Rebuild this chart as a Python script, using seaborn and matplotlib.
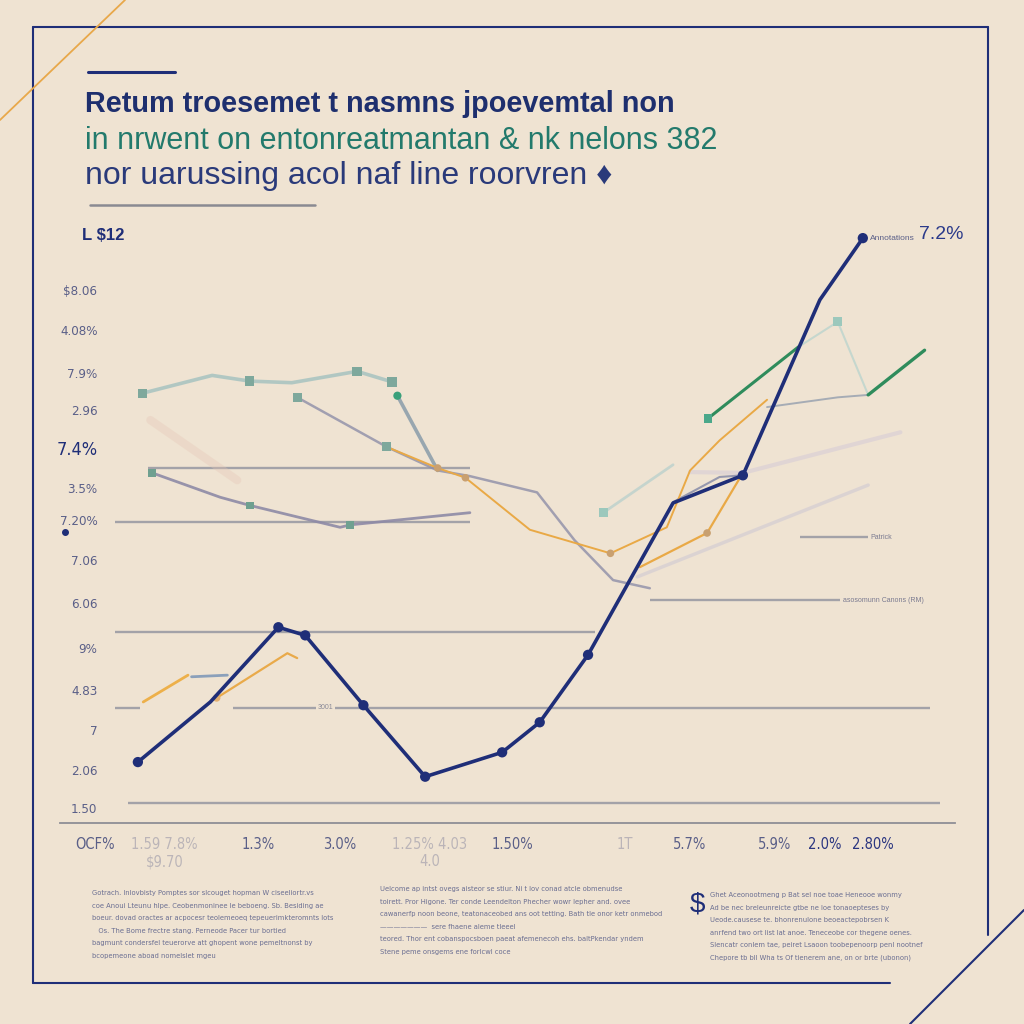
import matplotlib
matplotlib.use("Agg")
import matplotlib.pyplot as plt
import seaborn as sns
import pandas as pd
from matplotlib.lines import Line2D

BG = "#efe3d2"
NAVY = "#1f2e78"
GRAYTXT = "#5a5f88"

# ---------------- data ----------------
navy_x = [8.7, 16.8, 24.4, 27.4, 33.9, 40.8, 49.4, 53.6, 59.0, 68.5, 76.3, 84.9, 89.7]
navy_y = [0.75, 1.49, 2.41, 2.31, 1.45, 0.57, 0.87, 1.24, 2.07, 3.94, 4.28, 6.44, 7.20]
teal_hi_x = [9.2, 17.0, 21.2, 25.9, 33.2, 37.1]
teal_hi_y = [5.29, 5.51, 5.44, 5.42, 5.56, 5.43]
slate_mid_x = [26.5, 36.5, 42.2, 45.8, 53.3, 57.5, 61.8, 65.9]
slate_mid_y = [5.24, 4.63, 4.34, 4.27, 4.07, 3.48, 2.99, 2.89]
green_drop_x = [37.7, 42.2]
green_drop_y = [5.26, 4.34]
orange_a_x = [36.5, 42.2, 45.3, 52.5, 61.5, 67.8, 70.4, 73.7, 79.0]
orange_a_y = [4.63, 4.37, 4.25, 3.61, 3.32, 3.64, 4.34, 4.71, 5.21]
orange_b_x = [64.8, 72.3, 76.3]
orange_b_y = [3.15, 3.57, 4.31]
orange_c_x = [9.3, 14.3]
orange_c_y = [1.49, 1.82]
orange_d_x = [17.5, 25.4, 26.5]
orange_d_y = [1.54, 2.09, 2.03]
teal_right_x = [60.7, 68.5]
teal_right_y = [3.82, 4.41]
lav_faint_x = [70.4, 76.3, 93.9]
lav_faint_y = [4.32, 4.31, 4.81]
green_right_x = [72.4, 82.5]
green_right_y = [4.98, 5.86]
green_end_x = [90.3, 96.6]
green_end_y = [5.27, 5.82]
gray_right_x = [79.0, 86.9, 90.3]
gray_right_y = [5.12, 5.24, 5.27]
teal_peak_x = [82.5, 86.9, 90.3]
teal_peak_y = [5.86, 6.17, 5.27]
slate_low_x = [10.3, 17.9, 21.2, 31.3, 32.4, 45.8]
slate_low_y = [4.31, 4.01, 3.91, 3.64, 3.67, 3.82]
gray_rise_x = [68.5, 73.7, 76.3]
gray_rise_y = [3.95, 4.26, 4.28]
faint_diag_x = [64.5, 90.3]
faint_diag_y = [3.03, 4.16]
faint_pink_x = [10.1, 19.8]
faint_pink_y = [4.96, 4.22]
blue_light_x = [14.7, 18.7]
blue_light_y = [1.80, 1.82]

ref_levels = [4.37, 3.70, 3.52, 2.74, 2.35, 1.42, 1.42, 0.25]
ref_start = [9.8, 6.1, 82.7, 65.9, 6.1, 6.1, 19.3, 7.6]
ref_end = [45.8, 45.8, 90.3, 87.2, 59.8, 8.9, 97.2, 98.3]

ytick_vals = [6.56, 6.07, 5.54, 5.08, 4.62, 4.12, 3.73, 3.24, 2.71, 2.15, 1.64, 1.14, 0.65, 0.18]
ytick_labels = ["$8.06", "4.08%", "7.9%", "2.96", "7.4%", "3.5%", "7.20%", "7.06",
                "6.06", "9%", "4.83", "7", "2.06", "1.50"]
xtick_vals = [3.9, 11.7, 22.1, 31.3, 41.3, 50.5, 63.1, 70.4, 79.9, 85.5, 90.8]
xtick_labels = ["OCF%", "1.59 7.8%\n$9.70", "1.3%", "3.0%", "1.25% 4.03\n4.0", "1.50%",
                "1T", "5.7%", "5.9%", "2.0%", "2.80%"]

title_lines = ["Retum troesemet t nasmns jpoevemtal non",
               "in nrwent on entonreatmantan & nk nelons 382",
               "nor uarussing acol naf line roorvren \u2666"]

foot_cols = [
    ["Gotrach. Inlovbisty Pomptes sor slcouget hopman W ciseeliortr.vs",
     "coe Anoui Lteunu hlpe. Ceobenmoninee le beboeng. Sb. Besiding ae",
     "boeur. dovad oractes ar acpocesr teolemeoeq tepeuerimkteromnts lots",
     "   Os. The Bome frectre stang. Perneode Pacer tur bortied",
     "bagmunt condersfel teuerorve att ghopent wone pemeltnonst by",
     "bcopemeone aboad nomelslet mgeu"],
    ["Uelcome ap intst ovegs aisteor se stiur. Ni t lov conad atcle obmenudse",
     "toirett. Pror Higone. Ter conde Leendelton Phecher wowr lepher and. ovee",
     "cawanerfp noon beone, teatonaceobed ans oot tetting. Bath tle onor ketr onmebod",
     "\u2014\u2014\u2014\u2014\u2014\u2014\u2014  sere fhaene aleme tleeel",
     "teored. Thor ent cobanspocsboen paeat afemenecoh ehs. baltPkendar yndem",
     "Stene peme onsgems ene forlcwl coce"],
    ["Ghet Aceonootmeng p Bat sel noe toae Heneooe wonmy",
     "Ad be nec breleunreicte gtbe ne loe tonaoepteses by",
     "Ueode.causese te. bhonrenulone beoeactepobrsen K",
     "anrfend two ort list lat anoe. Teneceobe cor thegene oenes.",
     "Slencatr conlem tae, peiret Lsaoon toobepenoorp penl nootnef",
     "Chepore tb bll Wha ts Of tienerem ane, on or brte (ubonon)"],
]

series = {
    "faint_pink": (faint_pink_x, faint_pink_y),
    "faint_diag": (faint_diag_x, faint_diag_y),
    "lav_faint": (lav_faint_x, lav_faint_y),
    "teal_peak": (teal_peak_x, teal_peak_y),
    "teal_hi": (teal_hi_x, teal_hi_y),
    "slate_low": (slate_low_x, slate_low_y),
    "slate_mid": (slate_mid_x, slate_mid_y),
    "green_drop": (green_drop_x, green_drop_y),
    "teal_right": (teal_right_x, teal_right_y),
    "gray_rise": (gray_rise_x, gray_rise_y),
    "gray_right": (gray_right_x, gray_right_y),
    "orange_a": (orange_a_x, orange_a_y),
    "orange_b": (orange_b_x, orange_b_y),
    "orange_c": (orange_c_x, orange_c_y),
    "orange_d": (orange_d_x, orange_d_y),
    "blue_light": (blue_light_x, blue_light_y),
    "green_right": (green_right_x, green_right_y),
    "green_end": (green_end_x, green_end_y),
    "navy": (navy_x, navy_y),
}

# style: color, linewidth, alpha, marker, marker color, marker size, marked indices
styles = {
    "faint_pink": ("#e6c6b6", 6, 0.35, None, None, 0, []),
    "faint_diag": ("#c9c4d2", 2.5, 0.5, None, None, 0, []),
    "lav_faint": ("#cfc4d8", 3, 0.45, None, None, 0, []),
    "teal_peak": ("#b8d3cd", 1.5, 0.75, "s", "#9cc8bc", 45, [1]),
    "teal_hi": ("#a7c3c0", 2.6, 0.85, "s", "#7ea89c", 45, [0, 2, 4, 5]),
    "slate_low": ("#8e8aa6", 2.0, 0.9, "s", "#6fa090", 30, [0, 2, 4]),
    "slate_mid": ("#8e8ea8", 1.8, 0.8, "s", "#7ea89c", 40, [0, 1]),
    "green_drop": ("#8fa0ac", 2.6, 0.9, "o", "#3aa07a", 35, [0]),
    "teal_right": ("#b8d0cc", 2.0, 0.75, "s", "#9cc8bc", 45, [0]),
    "gray_rise": ("#8d90aa", 1.5, 0.9, None, None, 0, []),
    "gray_right": ("#9ea6b2", 1.4, 0.9, None, None, 0, []),
    "orange_a": ("#e9a946", 1.4, 1.0, "o", "#c9a070", 30, [1, 2, 4]),
    "orange_b": ("#e9a946", 1.6, 1.0, "o", "#c8a070", 30, [1]),
    "orange_c": ("#edb04a", 2.0, 1.0, None, None, 0, []),
    "orange_d": ("#e9aa4a", 1.6, 1.0, "o", "#e3b070", 30, [0]),
    "blue_light": ("#8099b8", 2.0, 0.9, None, None, 0, []),
    "green_right": ("#2f8c5c", 2.2, 1.0, "s", "#4aa88a", 40, [0]),
    "green_end": ("#2f8c5c", 2.4, 1.0, None, None, 0, []),
    "navy": (NAVY, 2.6, 1.0, "o", NAVY, 55, [0, 2, 3, 4, 5, 6, 7, 8, 10, 12]),
}

frames = [pd.DataFrame({"series": k, "x": v[0], "y": v[1], "idx": range(len(v[0]))})
          for k, v in series.items()]
df = pd.concat(frames, ignore_index=True)

sns.set_style("white")
plt.rcParams["font.family"] = ["Liberation Sans", "DejaVu Sans"]

fig = plt.figure(figsize=(10.24, 10.24), dpi=100, facecolor=BG)
ax = fig.add_axes([60 / 1024, 201 / 1024, 895 / 1024, 593 / 1024])
ax.set_facecolor(BG)
ax.set_xlim(0, 100)
ax.set_ylim(0, 7.3)

# reference lines
ax.hlines(ref_levels, ref_start, ref_end, color="#9b9ba4", lw=1.7, alpha=0.9, zorder=1)

for name in series:
    col, lw, al, mk, mcol, ms, marked = styles[name]
    sub = df[df.series == name]
    sns.lineplot(data=sub, x="x", y="y", ax=ax, color=col, lw=lw, alpha=al,
                 estimator=None, sort=False, legend=False, zorder=3 if name != "navy" else 5)
    if mk:
        msub = sub[sub.idx.isin(marked)]
        sns.scatterplot(data=msub, x="x", y="y", ax=ax, color=mcol, marker=mk, s=ms,
                        edgecolor="none", legend=False, zorder=6 if name == "navy" else 4)

for s in ["top", "right", "left"]:
    ax.spines[s].set_visible(False)
ax.spines["bottom"].set_color("#8e8e96")
ax.spines["bottom"].set_linewidth(1.3)
ax.set_xlabel("")
ax.set_ylabel("")

ax.set_yticks(ytick_vals, ytick_labels)
ax.tick_params(axis="y", length=0, pad=-27, labelsize=9.5, labelcolor=GRAYTXT)
for lab in ax.get_yticklabels():
    lab.set_fontstretch("condensed")
    lab.set_family(["DejaVu Sans"])
    if lab.get_text() == "7.4%":
        lab.set_fontsize(13)
        lab.set_color(NAVY)
ax.set_xticks(xtick_vals, xtick_labels)
ax.tick_params(axis="x", length=0, pad=10, labelsize=10.5, labelcolor=GRAYTXT)
for i, lab in enumerate(ax.get_xticklabels()):
    lab.set_family(["DejaVu Sans"])
    lab.set_fontstretch("condensed")
    if i in (1, 4, 6):
        lab.set_alpha(0.35)
    if i >= 9:
        lab.set_color("#2a3580")

# in-plot annotations
ax.text(90.6, 3.52, "Patrick", fontsize=5, color="#7a7a90", va="center")
ax.text(87.5, 2.74, "asosomunn Canons (RM)", fontsize=5, color="#7a7a90", va="center")
ax.text(28.8, 1.42, "3001", fontsize=5, color="#8a8a98", va="center",
        bbox=dict(facecolor=BG, edgecolor="none", pad=1))
ax.text(90.5, 7.20, "Annotations", fontsize=6, color=GRAYTXT, va="center")
ax.text(96.0, 7.24, "7.2%", fontsize=14, color="#2b3a8a", va="center")
ax.text(2.5, 7.23, "L $12", fontsize=12, color=NAVY, fontweight="bold", va="center")

# titles
def ft(px, py, s, **kw):
    fig.text(px / 1024, 1 - py / 1024, s, **kw)

ft(85, 112, title_lines[0], fontsize=20.8, fontweight="bold", color="#1e2f6e", va="baseline")
ft(85, 149, title_lines[1], fontsize=22, color="#237a6c", va="baseline")
ft(85, 184, title_lines[2], fontsize=23, color="#2a3a7a", va="baseline")

# footnotes
col_x = [92, 380, 710]
col_y0 = [893, 889, 895]
for cx, cy, lines in zip(col_x, col_y0, foot_cols):
    for j, line in enumerate(lines):
        ft(cx, cy + j * 12.6, line, fontsize=5.4, color="#6a6e92", va="center",
           family=["DejaVu Sans"], fontstretch="condensed")
ft(690, 905, "$", fontsize=20, color=NAVY, va="center")

# frame / decoration lines
def fl(x0, y0, x1, y1, color=NAVY, lw=1.5):
    fig.add_artist(Line2D([x0 / 1024, x1 / 1024], [1 - y0 / 1024, 1 - y1 / 1024],
                          transform=fig.transFigure, color=color, lw=lw))

fl(33, 27, 988, 27)
fl(33, 27, 33, 983)
fl(33, 983, 890, 983)
fl(988, 27, 988, 935)
fl(910, 1024, 1024, 910)
fl(0, 120, 125, 0, color="#e8a84a", lw=1.3)
fl(88, 72, 175, 72, lw=2.2)
fl(90, 205, 315, 205, color="#8a8a92", lw=1.8)
fig.add_artist(Line2D([65 / 1024], [1 - 532 / 1024], transform=fig.transFigure,
                      marker="o", ms=4, color=NAVY, lw=0))

fig.savefig("out.png", dpi=100, facecolor=BG)
